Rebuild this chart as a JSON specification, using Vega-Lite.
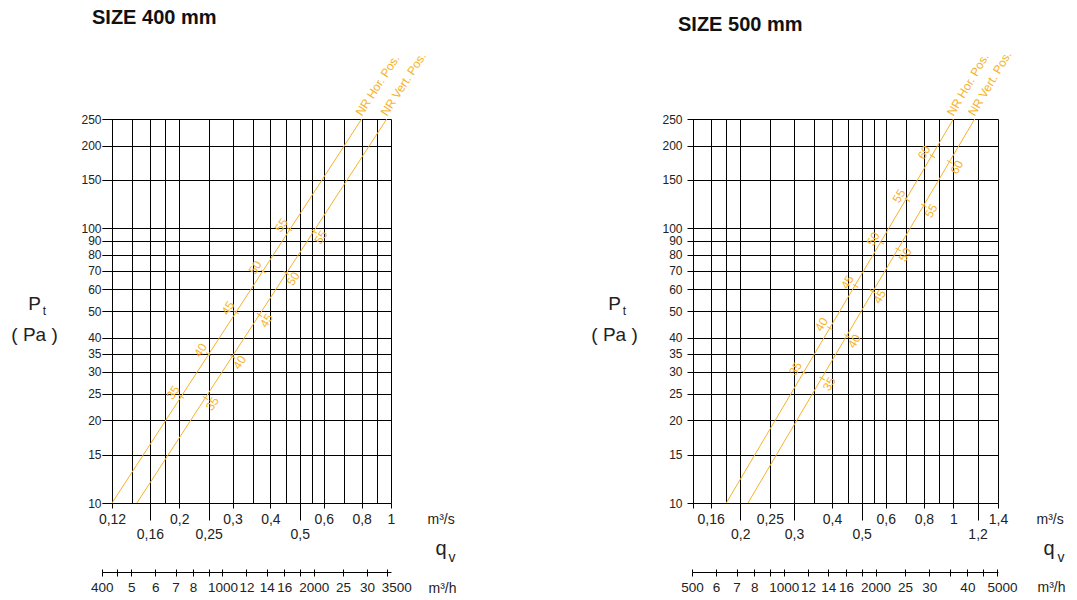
{
  "$schema": "https://vega.github.io/schema/vega-lite/v6.json",
  "background": "white",
  "padding": {"left": 10, "top": 8, "right": 5, "bottom": 3},
  "autosize": {"type": "pad"},
  "config": {
    "view": {"stroke": null},
    "axis": {"labelFont": "Liberation Sans", "titleFont": "Liberation Sans"},
    "title": {"font": "Liberation Sans"}
  },
  "datasets": {
    "l400": [
      {"q": 0.12, "p": 10, "pos": "Hor"}, {"q": 0.8, "p": 250, "pos": "Hor"},
      {"q": 0.145, "p": 10, "pos": "Vert"}, {"q": 0.968, "p": 250, "pos": "Vert"}
    ],
    "nr400": [
      {"q": 0.203, "p": 24.4, "nr": "35", "pos": "Hor"},
      {"q": 0.25, "p": 34.8, "nr": "40", "pos": "Hor"},
      {"q": 0.308, "p": 49.5, "nr": "45", "pos": "Hor"},
      {"q": 0.379, "p": 69.6, "nr": "50", "pos": "Hor"},
      {"q": 0.462, "p": 99.2, "nr": "55", "pos": "Hor"},
      {"q": 0.244, "p": 24.1, "nr": "35", "pos": "Vert"},
      {"q": 0.30, "p": 34.1, "nr": "40", "pos": "Vert"},
      {"q": 0.368, "p": 48.4, "nr": "45", "pos": "Vert"},
      {"q": 0.451, "p": 68.7, "nr": "50", "pos": "Vert"},
      {"q": 0.557, "p": 97.3, "nr": "55", "pos": "Vert"}
    ],
    "e400": [
      {"q": 0.8, "p": 250, "label": "NR Hor. Pos."},
      {"q": 0.968, "p": 250, "label": "NR Vert. Pos."}
    ],
    "l500": [
      {"q": 0.18, "p": 10, "pos": "Hor"}, {"q": 1.0, "p": 250, "pos": "Hor"},
      {"q": 0.212, "p": 10, "pos": "Vert"}, {"q": 1.174, "p": 250, "pos": "Vert"}
    ],
    "nr500": [
      {"q": 0.323, "p": 29.9, "nr": "35", "pos": "Hor"},
      {"q": 0.393, "p": 43.3, "nr": "40", "pos": "Hor"},
      {"q": 0.478, "p": 61.7, "nr": "45", "pos": "Hor"},
      {"q": 0.581, "p": 88.7, "nr": "50", "pos": "Hor"},
      {"q": 0.706, "p": 127, "nr": "55", "pos": "Hor"},
      {"q": 0.853, "p": 183, "nr": "60", "pos": "Hor"},
      {"q": 0.371, "p": 28.4, "nr": "35", "pos": "Vert"},
      {"q": 0.448, "p": 40.6, "nr": "40", "pos": "Vert"},
      {"q": 0.5425, "p": 59.0, "nr": "45", "pos": "Vert"},
      {"q": 0.658, "p": 83.8, "nr": "50", "pos": "Vert"},
      {"q": 0.80, "p": 121, "nr": "55", "pos": "Vert"},
      {"q": 0.972, "p": 174.5, "nr": "60", "pos": "Vert"}
    ],
    "e500": [
      {"q": 1.0, "p": 250, "label": "NR Hor. Pos."},
      {"q": 1.174, "p": 250, "label": "NR Vert. Pos."}
    ]
  },
  "spacing": 302,
  "bounds": "flush",
  "hconcat": [
    {
      "width": 279,
      "height": 384,
      "title": {"text": "SIZE 400 mm", "anchor": "start", "frame": "group", "fontSize": 20, "fontWeight": "bold", "color": "#111111", "offset": 2, "dx": -20, "baseline": "bottom"},
      "resolve": {"axis": {"x": "independent", "y": "independent"}},
      "layer": [
        {
          "data": {"name": "l400"},
          "mark": {"type": "line", "color": "#F7B22A", "strokeWidth": 1},
          "encoding": {
            "x": {"field": "q", "type": "quantitative",
              "scale": {"type": "log", "domain": [0.1111111, 1], "range": [-10.127, 279], "nice": false},
              "axis": {
                "orient": "bottom",
                "values": [0.12, 0.14, 0.16, 0.18, 0.2, 0.25, 0.3, 0.35, 0.4, 0.45, 0.5, 0.55, 0.6, 0.7, 0.8, 0.9, 1],
                "grid": true, "gridColor": "#000000", "gridWidth": 1, "gridOpacity": 1,
                "domain": false,
                "tickColor": "#000000", "tickWidth": 1, "tickSize": 5,
                "tickOpacity": {"condition": {"test": "indexof([0.12, 0.2, 0.3, 0.4, 0.6, 0.8, 1], datum.value) < 0", "value": 0}, "value": 1},
                "labelExpr": "indexof([0.12, 0.2, 0.3, 0.4, 0.6, 0.8, 1], datum.value) >= 0 ? replace(format(datum.value, ''), '.', ',') : ''",
                "labelPadding": 4,
                "labelFontSize": 14, "labelColor": "#222222", "labelOverlap": false, "labelFlush": false, "labelBound": false,
                "title": "m³/s", "titleX": 315, "titleY": 16, "titleAlign": "left", "titleBaseline": "middle", "titleFontSize": 14, "titleFontWeight": "normal", "titleColor": "#222222"
              }
            },
            "y": {"field": "p", "type": "quantitative",
              "scale": {"type": "log", "domain": [10, 250], "nice": false},
              "axis": {
                "orient": "left",
                "values": [10, 15, 20, 25, 30, 35, 40, 50, 60, 70, 80, 90, 100, 150, 200, 250],
                "grid": true, "gridColor": "#000000", "gridWidth": 1, "gridOpacity": 1,
                "domain": false, "tickColor": "#000000", "tickSize": 6, "labelPadding": 5,
                "labelExpr": "format(datum.value, '')",
                "labelFontSize": 12, "labelColor": "#222222", "labelOverlap": false, "labelFlush": false, "labelBound": false,
                "title": ["P", "( Pa )"], "titleAngle": 0, "titleX": -78, "titleY": 184, "titleAlign": "center", "titleBaseline": "middle",
                "titleFontSize": 19, "titleFontWeight": "normal", "titleColor": "#222222", "titleLineHeight": 31
              }
            },
            "detail": {"field": "pos"}
          }
        },
        {
          "data": {"name": "nr400"},
          "mark": {"type": "point", "shape": "stroke", "angle": 33, "size": 36, "color": "#F7B22A", "strokeWidth": 1, "filled": false, "opacity": 1},
          "encoding": {
            "x": {"field": "q", "type": "quantitative",
              "scale": {"type": "log", "domain": [0.1111111, 1], "range": [-10.127, 279], "nice": false},
              "axis": {"orient": "bottom", "values": [0.16, 0.25, 0.5], "domain": false, "grid": false,
                "tickColor": "#000000", "tickWidth": 1, "tickSize": 17, "labelPadding": 7,
                "labelExpr": "replace(format(datum.value, ''), '.', ',')",
                "labelFontSize": 14, "labelColor": "#222222", "labelOverlap": false, "labelFlush": false, "labelBound": false,
                "title": "q", "titleX": 323, "titleY": 51, "titleAlign": "left", "titleBaseline": "alphabetic", "titleFontSize": 20, "titleFontWeight": "normal", "titleColor": "#222222"}
            },
            "y": {"field": "p", "type": "quantitative",
              "scale": {"type": "log", "domain": [10, 250], "nice": false},
              "axis": {"orient": "left", "domain": false, "ticks": false, "labels": false, "grid": false,
                "title": "t", "titleAngle": 0, "titleX": -68, "titleY": 191, "titleAlign": "center", "titleBaseline": "middle", "titleFontSize": 12, "titleFontWeight": "normal", "titleColor": "#222222"}
            }
          }
        },
        {
          "data": {"name": "nr400"},
          "transform": [{"filter": "datum.pos == 'Hor'"}],
          "mark": {"type": "text", "angle": -57, "dx": -1, "dy": -9, "align": "center", "baseline": "middle", "fontSize": 12, "font": "Liberation Sans", "color": "#F7B22A"},
          "encoding": {
            "x": {"field": "q", "type": "quantitative",
              "scale": {"type": "log", "domain": [0.1111111, 1], "range": [-10.127, 279], "nice": false},
              "axis": {
                "orient": "bottom", "offset": 69,
                "values": [0.1111111111111111, 0.125, 0.1388888888888889, 0.16666666666666666, 0.19444444444444445, 0.2222222222222222, 0.25, 0.2777777777777778, 0.3333333333333333, 0.3888888888888889, 0.4444444444444444, 0.5, 0.5555555555555556, 0.6944444444444444, 0.8333333333333334, 0.9722222222222222],
                "grid": false, "domain": true, "domainColor": "#000000", "domainWidth": 1,
                "tickColor": "#000000", "tickSize": 4, "labelPadding": 4,
                "labelOffset": {"condition": {"test": "round(datum.value * 3600) == 3500", "value": 9}, "value": 0},
                "labelExpr": "indexof([450, 900, 1800], round(datum.value * 3600)) >= 0 ? '' : (indexof([400, 1000, 2000, 3500], round(datum.value * 3600)) >= 0 ? '' + round(datum.value * 3600) : '' + round(datum.value * 36))",
                "labelFontSize": 13.5, "labelColor": "#222222", "labelOverlap": false, "labelFlush": false, "labelBound": false,
                "title": "m³/h", "titleX": 316, "titleY": 16, "titleAlign": "left", "titleBaseline": "middle", "titleFontSize": 14, "titleFontWeight": "normal", "titleColor": "#222222"
              }
            },
            "y": {"field": "p", "type": "quantitative", "scale": {"type": "log", "domain": [10, 250], "nice": false}, "axis": null},
            "text": {"field": "nr"}
          }
        },
        {
          "data": {"name": "nr400"},
          "transform": [{"filter": "datum.pos == 'Vert'"}],
          "mark": {"type": "text", "angle": -57, "dx": -1, "dy": 9, "align": "center", "baseline": "middle", "fontSize": 12, "font": "Liberation Sans", "color": "#F7B22A"},
          "encoding": {
            "x": {"field": "q", "type": "quantitative",
              "scale": {"type": "log", "domain": [0.1111111, 1], "range": [-10.127, 279], "nice": false},
              "axis": {
                "orient": "bottom", "offset": 66,
                "values": [0.1111111111111111, 0.125, 0.1388888888888889, 0.16666666666666666, 0.19444444444444445, 0.2222222222222222, 0.25, 0.2777777777777778, 0.3333333333333333, 0.3888888888888889, 0.4444444444444444, 0.5, 0.5555555555555556, 0.6944444444444444, 0.8333333333333334, 0.9722222222222222],
                "grid": false, "domain": false, "labels": false,
                "tickColor": "#000000", "tickSize": 3,
                "title": "v", "titleX": 336, "titleY": -8, "titleAlign": "left", "titleBaseline": "alphabetic", "titleFontSize": 14, "titleFontWeight": "normal", "titleColor": "#222222"
              }
            },
            "y": {"field": "p", "type": "quantitative", "scale": {"type": "log", "domain": [10, 250], "nice": false}, "axis": null},
            "text": {"field": "nr"}
          }
        },
        {
          "data": {"name": "e400"},
          "mark": {"type": "text", "angle": -57, "dx": 2, "dy": -1, "align": "left", "baseline": "alphabetic", "fontSize": 12, "font": "Liberation Sans", "color": "#F7B22A"},
          "encoding": {
            "x": {"field": "q", "type": "quantitative", "scale": {"type": "log", "domain": [0.1111111, 1], "range": [-10.127, 279], "nice": false}, "axis": null},
            "y": {"field": "p", "type": "quantitative", "scale": {"type": "log", "domain": [10, 250], "nice": false}, "axis": null},
            "text": {"field": "label"}
          }
        }
      ]
    },
    {
      "width": 305,
      "height": 384,
      "title": {"text": "SIZE 500 mm", "anchor": "start", "frame": "group", "fontSize": 20, "fontWeight": "bold", "color": "#111111", "offset": -6, "dx": -15, "baseline": "bottom"},
      "resolve": {"axis": {"x": "independent", "y": "independent"}},
      "layer": [
        {
          "data": {"name": "l500"},
          "mark": {"type": "line", "color": "#F7B22A", "strokeWidth": 1},
          "encoding": {
            "x": {"field": "q", "type": "quantitative",
              "scale": {"type": "log", "domain": [0.1388888, 1.4], "range": [-1.0555, 305], "nice": false},
              "axis": {
                "orient": "bottom",
                "values": [0.14, 0.16, 0.18, 0.2, 0.25, 0.3, 0.35, 0.4, 0.45, 0.5, 0.55, 0.6, 0.7, 0.8, 0.9, 1, 1.2, 1.4],
                "grid": true, "gridColor": "#000000", "gridWidth": 1, "gridOpacity": 1,
                "domain": false,
                "tickColor": "#000000", "tickWidth": 1, "tickSize": 5,
                "tickOpacity": {"condition": {"test": "indexof([0.14, 0.16, 0.25, 0.4, 0.6, 0.8, 1, 1.4], datum.value) < 0", "value": 0}, "value": 1},
                "labelExpr": "indexof([0.16, 0.25, 0.4, 0.6, 0.8, 1, 1.4], datum.value) >= 0 ? replace(format(datum.value, ''), '.', ',') : ''",
                "labelPadding": 4,
                "labelFontSize": 14, "labelColor": "#222222", "labelOverlap": false, "labelFlush": false, "labelBound": false,
                "title": "m³/s", "titleX": 343, "titleY": 16, "titleAlign": "left", "titleBaseline": "middle", "titleFontSize": 14, "titleFontWeight": "normal", "titleColor": "#222222"
              }
            },
            "y": {"field": "p", "type": "quantitative",
              "scale": {"type": "log", "domain": [10, 250], "nice": false},
              "axis": {
                "orient": "left",
                "values": [10, 15, 20, 25, 30, 35, 40, 50, 60, 70, 80, 90, 100, 150, 200, 250],
                "grid": true, "gridColor": "#000000", "gridWidth": 1, "gridOpacity": 1,
                "domain": false, "tickColor": "#000000", "tickSize": 6, "labelPadding": 5,
                "labelExpr": "format(datum.value, '')",
                "labelFontSize": 12, "labelColor": "#222222", "labelOverlap": false, "labelFlush": false, "labelBound": false,
                "title": ["P", "( Pa )"], "titleAngle": 0, "titleX": -79, "titleY": 184, "titleAlign": "center", "titleBaseline": "middle",
                "titleFontSize": 19, "titleFontWeight": "normal", "titleColor": "#222222", "titleLineHeight": 31
              }
            },
            "detail": {"field": "pos"}
          }
        },
        {
          "data": {"name": "nr500"},
          "mark": {"type": "point", "shape": "stroke", "angle": 30.6, "size": 36, "color": "#F7B22A", "strokeWidth": 1, "filled": false, "opacity": 1},
          "encoding": {
            "x": {"field": "q", "type": "quantitative",
              "scale": {"type": "log", "domain": [0.1388888, 1.4], "range": [-1.0555, 305], "nice": false},
              "axis": {"orient": "bottom", "values": [0.2, 0.3, 0.5, 1.2], "domain": false, "grid": false,
                "tickColor": "#000000", "tickWidth": 1, "tickSize": 17, "labelPadding": 7,
                "labelExpr": "replace(format(datum.value, ''), '.', ',')",
                "labelFontSize": 14, "labelColor": "#222222", "labelOverlap": false, "labelFlush": false, "labelBound": false,
                "title": "q", "titleX": 350, "titleY": 51, "titleAlign": "left", "titleBaseline": "alphabetic", "titleFontSize": 20, "titleFontWeight": "normal", "titleColor": "#222222"}
            },
            "y": {"field": "p", "type": "quantitative",
              "scale": {"type": "log", "domain": [10, 250], "nice": false},
              "axis": {"orient": "left", "domain": false, "ticks": false, "labels": false, "grid": false,
                "title": "t", "titleAngle": 0, "titleX": -69, "titleY": 191, "titleAlign": "center", "titleBaseline": "middle", "titleFontSize": 12, "titleFontWeight": "normal", "titleColor": "#222222"}
            }
          }
        },
        {
          "data": {"name": "nr500"},
          "transform": [{"filter": "datum.pos == 'Hor'"}],
          "mark": {"type": "text", "angle": -59.4, "dx": -1, "dy": -9, "align": "center", "baseline": "middle", "fontSize": 12, "font": "Liberation Sans", "color": "#F7B22A"},
          "encoding": {
            "x": {"field": "q", "type": "quantitative",
              "scale": {"type": "log", "domain": [0.1388888, 1.4], "range": [-1.0555, 305], "nice": false},
              "axis": {
                "orient": "bottom", "offset": 69,
                "values": [0.1388888888888889, 0.16666666666666666, 0.19444444444444445, 0.2222222222222222, 0.25, 0.2777777777777778, 0.3333333333333333, 0.3888888888888889, 0.4444444444444444, 0.5, 0.5555555555555556, 0.6944444444444444, 0.8333333333333334, 0.9722222222222222, 1.1111111111111112, 1.25, 1.3888888888888888],
                "grid": false, "domain": true, "domainColor": "#000000", "domainWidth": 1,
                "tickColor": "#000000", "tickSize": 4, "labelPadding": 4,
                "labelOffset": {"condition": {"test": "round(datum.value * 3600) == 5000", "value": 5}, "value": 0},
                "labelExpr": "indexof([900, 1800, 3500, 4500], round(datum.value * 3600)) >= 0 ? '' : (indexof([500, 1000, 2000, 5000], round(datum.value * 3600)) >= 0 ? '' + round(datum.value * 3600) : '' + round(datum.value * 36))",
                "labelFontSize": 13.5, "labelColor": "#222222", "labelOverlap": false, "labelFlush": false, "labelBound": false,
                "title": "m³/h", "titleX": 344, "titleY": 15, "titleAlign": "left", "titleBaseline": "middle", "titleFontSize": 14, "titleFontWeight": "normal", "titleColor": "#222222"
              }
            },
            "y": {"field": "p", "type": "quantitative", "scale": {"type": "log", "domain": [10, 250], "nice": false}, "axis": null},
            "text": {"field": "nr"}
          }
        },
        {
          "data": {"name": "nr500"},
          "transform": [{"filter": "datum.pos == 'Vert'"}],
          "mark": {"type": "text", "angle": -59.4, "dx": -1, "dy": 9, "align": "center", "baseline": "middle", "fontSize": 12, "font": "Liberation Sans", "color": "#F7B22A"},
          "encoding": {
            "x": {"field": "q", "type": "quantitative",
              "scale": {"type": "log", "domain": [0.1388888, 1.4], "range": [-1.0555, 305], "nice": false},
              "axis": {
                "orient": "bottom", "offset": 66,
                "values": [0.1388888888888889, 0.16666666666666666, 0.19444444444444445, 0.2222222222222222, 0.25, 0.2777777777777778, 0.3333333333333333, 0.3888888888888889, 0.4444444444444444, 0.5, 0.5555555555555556, 0.6944444444444444, 0.8333333333333334, 0.9722222222222222, 1.1111111111111112, 1.25, 1.3888888888888888],
                "grid": false, "domain": false, "labels": false,
                "tickColor": "#000000", "tickSize": 3,
                "title": "v", "titleX": 364, "titleY": -8, "titleAlign": "left", "titleBaseline": "alphabetic", "titleFontSize": 14, "titleFontWeight": "normal", "titleColor": "#222222"
              }
            },
            "y": {"field": "p", "type": "quantitative", "scale": {"type": "log", "domain": [10, 250], "nice": false}, "axis": null},
            "text": {"field": "nr"}
          }
        },
        {
          "data": {"name": "e500"},
          "mark": {"type": "text", "angle": -59.4, "dx": 2, "dy": -1, "align": "left", "baseline": "alphabetic", "fontSize": 12, "font": "Liberation Sans", "color": "#F7B22A"},
          "encoding": {
            "x": {"field": "q", "type": "quantitative", "scale": {"type": "log", "domain": [0.1388888, 1.4], "range": [-1.0555, 305], "nice": false}, "axis": null},
            "y": {"field": "p", "type": "quantitative", "scale": {"type": "log", "domain": [10, 250], "nice": false}, "axis": null},
            "text": {"field": "label"}
          }
        }
      ]
    }
  ]
}
